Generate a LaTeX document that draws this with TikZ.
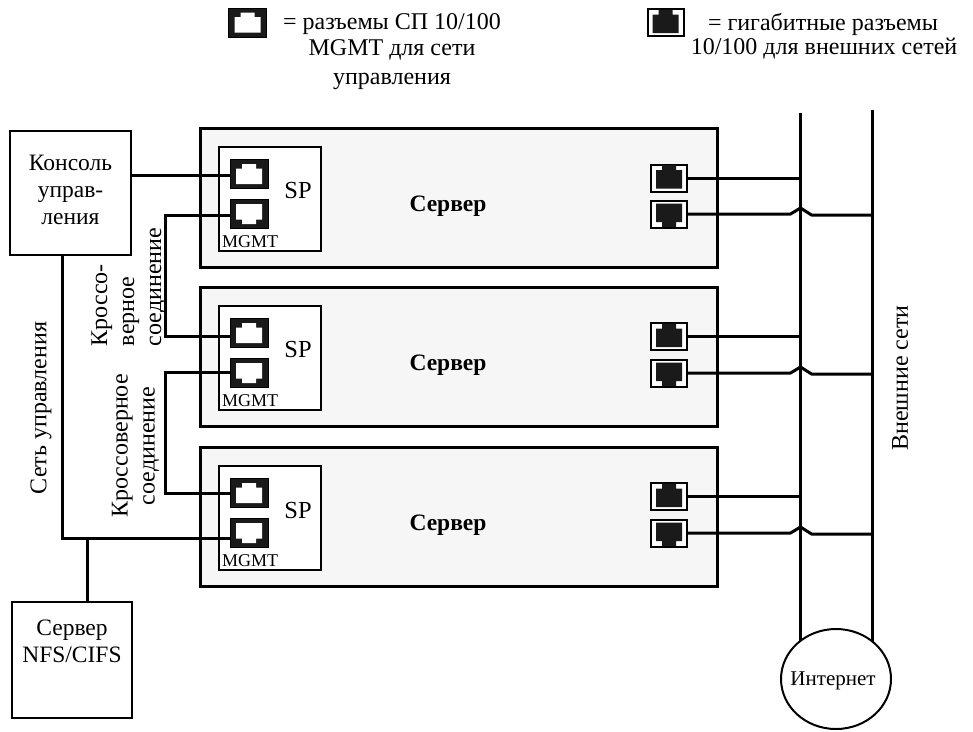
\documentclass[tikz,border=0pt]{standalone}
\usepackage{fontspec}
\usetikzlibrary{shapes.geometric,calc}
\setmainfont{Liberation Serif}
\definecolor{panel}{HTML}{F6F6F6}
\definecolor{jack}{HTML}{1A1A1A}
\tikzset{
  wire/.style={line width=3pt,black},
  thinbox/.style={draw=black,line width=2pt,fill=white,rectangle,inner sep=0pt,anchor=north west},
  serverbox/.style={draw=black,line width=3.2pt,fill=panel,rectangle,inner sep=0pt,anchor=north west},
  txt/.style={font=\fontsize{24}{27}\selectfont,inner sep=0pt,align=center},
  vtxt/.style={txt,rotate=90,align=left},
  portbase/.style={rectangle,minimum width=38pt,minimum height=29pt,inner sep=0pt}
}
% white jack in black frame; #4 = +1 notch up, -1 notch down
\newcommand{\mgmtport}[4]{%
  \node[portbase,fill=jack,draw=black,line width=0.6pt] (#1) at (#2,#3) {};
  \fill[white] (#2-13,#3+#4*10) -- (#2-13,#3-#4*5.5) -- (#2-7,#3-#4*5.5) -- (#2-7,#3-#4*10) -- (#2+7,#3-#4*10)
     -- (#2+7,#3-#4*5.5) -- (#2+13,#3-#4*5.5) -- (#2+13,#3+#4*10) -- cycle;
}
% dark jack in white box with black outline
\newcommand{\gigport}[4]{%
  \node[portbase,minimum width=36pt,minimum height=27pt,fill=white,draw=black,line width=2pt] (#1) at (#2,#3) {};
  \fill[jack] (#2-13,#3+#4*10.5) -- (#2-13,#3-#4*8) -- (#2-7,#3-#4*8) -- (#2-7,#3-#4*13) -- (#2+7,#3-#4*13)
     -- (#2+7,#3-#4*8) -- (#2+13,#3-#4*8) -- (#2+13,#3+#4*10.5) -- cycle;
}
\begin{document}
\begin{tikzpicture}[x=1pt,y=-1pt]
\useasboundingbox (0,0) rectangle (973,731);
% servers
\foreach \n/\t in {1/127,2/286,3/446}{
  \node[serverbox,minimum width=517pt,minimum height=139pt] (srv\n) at (199,\t) {};
  \node[thinbox,minimum width=102pt,minimum height=104pt] (sp\n) at (218,\t+19) {};
  \node[txt,font=\fontsize{24.5}{27}\selectfont] (sptxt\n) at (298,\t+64) {SP};
  \node[txt,font=\fontsize{18}{20}\selectfont] (mg\n) at (250,\t+114.5) {MGMT};
  \node[txt,font=\bfseries\fontsize{23.5}{27}\selectfont] (name\n) at (448,\t+79) {Сервер};
}
% management ports
\mgmtport{p1a}{249}{174}{1}
\mgmtport{p1b}{249}{214}{-1}
\mgmtport{p2a}{249}{333}{1}
\mgmtport{p2b}{249}{373}{-1}
\mgmtport{p3a}{249}{493}{1}
\mgmtport{p3b}{249}{533}{-1}
% gigabit ports
\gigport{g1a}{669}{178}{1}
\gigport{g1b}{669}{214}{-1}
\gigport{g2a}{669}{336.5}{1}
\gigport{g2b}{669}{373}{-1}
\gigport{g3a}{669}{496.5}{1}
\gigport{g3b}{669}{533}{-1}
% boxes
\node[thinbox,minimum width=121pt,minimum height=124pt] (console) at (9,130) {};
\node[txt,font=\fontsize{23.5}{27}\selectfont] (contxt) at ($(console.center)+(0,-3)$) {Консоль\\управ-\\ления};
\node[thinbox,minimum width=120pt,minimum height=116pt] (nfs) at (11,601) {};
\node[txt,font=\fontsize{23.5}{27}\selectfont] (nfstxt) at ($(nfs.center)+(0,-19)$) {Сервер\\NFS/CIFS};
% buses and internet
\coordinate (inetc) at (836,679);
\coordinate (busA) at (800.5,113);
\coordinate (busB) at (872,110);
\draw[wire] (busA) -- (busA |- inetc);
\draw[wire] (busB) -- (busB |- inetc);
\node[draw=black,line width=2pt,fill=white,ellipse,minimum width=110pt,minimum height=100pt,inner sep=0pt] (inet) at (inetc) {};
\node[txt,font=\fontsize{21}{25}\selectfont] (inettxt) at ($(inet.center)+(-3,2)$) {Интернет};
% wire ends
\coordinate (w0) at ($(p1a.west)+(0,1)$);
\coordinate (w1b) at ($(p1b.west)+(0,1)$);
\coordinate (w2a) at ($(p2a.west)+(0,3)$);
\coordinate (w2b) at ($(p2b.west)+(0,-1)$);
\coordinate (w3b) at ($(p3b.west)+(0,5)$);
\coordinate (x1) at (165.5,0);
\coordinate (mgx) at (62.5,0);
\coordinate (tap) at (87,0);
% wires
\draw[wire] (w0 -| console.east) -- (w0);
\draw[wire] (w1b) -- (w1b -| x1) -- (w2a -| x1) -- (w2a);
\draw[wire] (w2b) -- (w2b -| x1) -- (p3a.west -| x1) -- (p3a.west);
\draw[wire] (mgx |- console.south) -- (w3b -| mgx) -- (w3b);
\draw[wire] (w3b -| tap) -- (tap |- nfs.north);
\foreach \n in {g1a,g2a,g3a}{\draw[wire] (\n.east) -- (\n.east -| busA);}
\foreach \n in {g1b,g2b,g3b}{\draw[wire,line join=round] (\n.east) -- ($(\n.east -| busA)+(-10,0)$) -- ($(\n.east -| busA)+(0,-6)$) -- ($(\n.east -| busA)+(11,1)$) -- ($(\n.east -| busB)+(0,1)$);}
% labels
\node[vtxt] (l1) at (41,408) {Сеть управления};
\node[vtxt] (l2) at (128.5,287) {Кроссо-\\верное\\соединение};
\node[vtxt,align=center] (l3) at (135.5,446) {Кроссоверное\\соединение};
\node[txt,rotate=90] (l4) at (900,378) {Внешние сети};
\node[txt] (h1) at (392,24) {= разъемы СП 10/100};
\node[txt] (h2) at (392,50) {MGMT для сети};
\node[txt] (h3) at (392,81) {управления};
\node[txt] (h4) at (823,24) {= гигабитные разъемы};
\node[txt] (h5) at (824,49) {10/100 для внешних сетей};
% legend icons
\mgmtport{lg1}{247.5}{22.5}{1}
\gigport{lg2}{665.5}{22.5}{1}
\end{tikzpicture}
\end{document}
